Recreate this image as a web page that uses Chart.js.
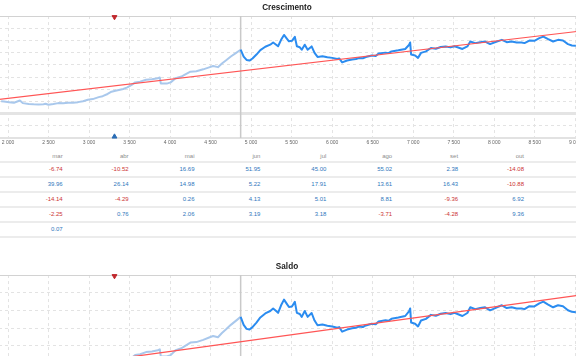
<!DOCTYPE html>
<html><head><meta charset="utf-8">
<script src="https://cdn.jsdelivr.net/npm/chart.js@4.4.1/dist/chart.umd.min.js"></script>
<style>
html,body{margin:0;padding:0;width:576px;height:356px;overflow:hidden;background:#fff;position:relative;font-family:"Liberation Sans",Arial,sans-serif;}
canvas{position:absolute;}
#c1{left:-78px;top:0;}
#c2{left:-78px;top:259px;}
#tbl{position:absolute;left:0;top:150px;width:576px;}
.row{position:relative;border-bottom:2px solid #ececec;}
.hdr{height:11px;}
.r{height:13px;}
.cell{position:absolute;top:0;font-size:6px;white-space:nowrap;text-align:right;}
.hdr .cell{line-height:13px;color:#8c8c8c;}
.r .cell{line-height:13px;}
.neg{color:#cc3333;}
.pos{color:#2f78bd;}
</style>
</head><body>
<canvas id="c1" width="730" height="150"></canvas>
<div id="tbl"></div>
<canvas id="c2" width="730" height="150"></canvas>
<script>
// ---- data ----
const historyTrades = [1915,1951,2012,2073,2122,2146,2182,2255,2316,2377,2438,2462,2499,2560,2620,2681,2742,2803,2864,2925,2985,3046,3119,3168,3229,3277,3326,3423,3472,3521,3569,3630,3703,3776,3849,3873,3886,3959,4007,4068,4141,4177,4251,4324,4409,4482,4531,4591,4640,4688,4750,4811,4871];
const historyGrowth = [10.1,9.9,9.4,8.9,10.1,10.7,8.6,7.8,7.6,7.5,7.7,8.1,7.3,7.9,8.6,8.5,8.9,9.0,9.4,10.2,11.3,11.9,13.5,14.3,16.1,18.0,18.8,20.2,21.5,23.4,25.6,26.2,27.7,28.2,29.0,29.6,24.6,24.6,25.6,29.0,30.4,31.7,34.4,34.7,36.3,37.9,39.0,38.1,41.1,43.5,46.8,49.6,52.4];
const liveTrades = [4871,4908,4944,4980,5017,5066,5114,5175,5236,5272,5309,5333,5370,5406,5443,5467,5504,5540,5565,5601,5625,5662,5698,5747,5783,5820,5881,5941,6002,6063,6087,6124,6185,6246,6294,6331,6379,6416,6489,6538,6574,6659,6696,6732,6817,6902,6951,6963,6975,7024,7060,7097,7158,7219,7280,7340,7401,7462,7510,7547,7608,7669,7705,7766,7827,7888,7949,8034,8095,8155,8216,8277,8338,8374,8435,8496,8557,8606,8666,8727,8788,8849,8910,8959,9008];
const liveGrowth = [52.4,46.8,44.0,43.5,45.2,48.4,52.0,54.8,56.5,58.3,56.5,55.2,60.5,64.5,61.3,59.3,59.7,62.9,55.2,54.4,52.4,56.5,52.4,55.1,49.8,46.5,47.0,46.2,45.7,44.8,45.2,42.0,43.5,44.4,44.8,45.6,45.3,46.4,47.6,47.2,49.2,50.0,49.6,51.0,51.9,53.0,56.5,58.3,48.4,47.6,45.7,49.8,51.0,53.8,53.2,54.6,55.1,54.3,55.2,54.4,53.0,55.1,59.1,57.8,58.6,59.1,57.0,59.1,60.5,58.6,59.1,58.3,58.3,57.8,59.9,59.7,61.9,63.1,61.0,59.1,60.5,59.9,57.0,55.9,55.6];
const trendTrades = [1000, 9886];
const trendGrowth = [4.7, 74.1];
const splitTrade = 4871;
const markerTrade = 3314;
const xTicks = [2000,2500,3000,3500,4000,4500,5000,5500,6000,6500,7000,7500,8000,8500,9000];
const saldoGrid = [7.3,19.7,32.1,44.5,56.9,69.3,81.7];

const months = ['mar','abr','mai','jun','jul','ago','set','out'];
const row1 = [-6.74,-10.52,16.69,51.95,45.00,55.02,2.38,-14.08];
const row2 = [39.96,26.14,14.98,5.22,17.91,13.61,16.43,-10.88];
const row3 = [-14.14,-4.29,0.26,4.13,5.01,8.81,-9.36,6.92];
const row4 = [-2.25,0.76,2.06,3.19,3.18,-3.71,-4.28,9.36];
const row5 = [0.07,null,null,null,null,null,null,null];

// ---- table ----
const colRight0 = 62.7, colStep = 65.9;
const tbl = document.getElementById('tbl');
function addRow(cls, vals, isHeader){
  const r = document.createElement('div'); r.className = 'row ' + cls;
  vals.forEach((v,i)=>{
    if (v === null || v === undefined) return;
    const s = document.createElement('span');
    s.className = 'cell' + (isHeader ? '' : (v < 0 ? ' neg' : ' pos'));
    s.textContent = isHeader ? v : v.toFixed(2);
    s.style.right = (576 - (colRight0 + colStep*i)) + 'px';
    r.appendChild(s);
  });
  tbl.appendChild(r);
}
addRow('hdr', months, true);
[row1,row2,row3,row4,row5].forEach(r=>addRow('r', r, false));

// ---- charts ----
const fmt = v => String(v).replace(/\B(?=(\d{3})+(?!\d))/g,' ');
const pts = (xs, ys) => xs.map((x,i)=>({x, y: ys[i]}));

function makeChart(id, title, yMin, yMax, opts){
  const range = yMax - yMin;
  const yScale = {
    min: yMin, max: yMax, display: true,
    ticks: {display: false, stepSize: 10},
    grid: {
      drawTicks: false,
      color: c => (Math.abs(c.tick.value - yMax) < 1e-6) ? '#d2d2d2' : ((opts.zeroLine && c.tick.value === 0) ? '#e4e4e4' : '#e3e3e3'),
      lineWidth: c => (opts.zeroLine && c.tick.value === 0) ? 3 : 1
    },
    border: {display: false, dash: c => (Math.abs(c.tick.value - yMax) < 1e-6 || (opts.zeroLine && c.tick.value === 0)) ? [] : [3,3]}
  };
  if (opts.grid) yScale.afterBuildTicks = s => { s.ticks = opts.grid.map(v=>({value:v})); };
  return new Chart(document.getElementById(id), {
    type: 'line',
    data: {datasets: [
      {data: pts(trendTrades, trendGrowth), borderColor: '#ff5555', borderWidth: 1.2, pointRadius: 0, tension: 0},
      {type: 'scatter', data: [{x: markerTrade, y: yMax - range*0.008}], pointStyle: 'triangle', rotation: 180, pointRadius: 2.8, backgroundColor: '#c0282d', borderColor: '#c0282d', clip: false},
      {type: 'scatter', data: [{x: markerTrade, y: yMin + range*0.011}], pointStyle: 'triangle', pointRadius: 2.8, backgroundColor: '#2a6db5', borderColor: '#2a6db5', clip: false},
      {data: pts(liveTrades, liveGrowth), borderColor: '#2b8cf0', borderWidth: 2, pointRadius: 0, tension: 0, borderJoinStyle: 'round'},
      {data: pts(historyTrades, historyGrowth), borderColor: '#a9c8ec', borderWidth: 2, pointRadius: 0, tension: 0, borderJoinStyle: 'round'},
      {data: [{x: splitTrade, y: -200}, {x: splitTrade, y: 300}], borderColor: '#c9c9c9', borderWidth: 1.5, pointRadius: 0}
    ]},
    options: {
      responsive: false, animation: false, devicePixelRatio: 1,
      layout: {padding: {left: 0, right: 0, top: 0, bottom: 2}},
      plugins: {
        legend: {display: false}, tooltip: {enabled: false},
        title: {display: true, text: title, color: '#222', font: {family: 'Liberation Sans', size: 8.2, weight: 'bold'}, padding: {top: 3, bottom: 3.2}}
      },
      scales: {
        x: {
          type: 'linear', min: 1000, max: 9886,
          afterBuildTicks: s => { s.ticks = [1000,1500].concat(xTicks, [9500]).map(v=>({value:v})); },
          ticks: {autoSkip: false, maxRotation: 0, padding: 2, color: '#666', font: {family: 'Liberation Sans', size: 5},
            callback: v => xTicks.includes(v) ? fmt(v) : ''},
          grid: {drawTicks: false, color: '#e3e3e3', lineWidth: 1},
          border: {display: true, color: '#e2e2e2', width: 2, dash: [3,3]}
        },
        y: yScale
      }
    }
  });
}
makeChart('c1', 'Crescimento', -20, 80, {zeroLine: true});
makeChart('c2', 'Saldo', -3.75, 81.7, {zeroLine: false, grid: saldoGrid});
</script>
</body></html>
